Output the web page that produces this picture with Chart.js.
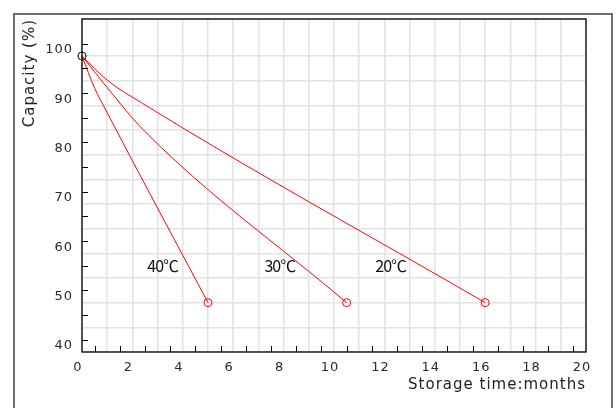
<!DOCTYPE html>
<html>
<head>
<meta charset="utf-8">
<script src="https://cdn.jsdelivr.net/npm/chart.js@4/dist/chart.umd.min.js"></script>
<style>
	html, body { margin: 0; padding: 0; background: #fff; }
	#wrap { position: relative; width: 616px; height: 408px; overflow: hidden; }
	#frame {
		position: absolute; left: 13px; top: 13px; width: 596px; height: 420px;
		border: 2px solid #6e6e6e;
	}
	#chart { position: absolute; left: 0; top: 0; }
</style>
</head>
<body>
<div id="wrap">
	<div id="frame"></div>
	<canvas id="chart" width="616" height="408"></canvas>
</div>
<script>
// storage curves: capacity (%) against storage time (months)
const months20 = [0, 1, 2.4, 16];
const cap20 = [100, 95.1, 90.4, 50];
const months30 = [0, 1, 2.4, 10.5];
const cap30 = [100, 93.6, 85.2, 50];
const months40 = [0, 0.5, 1, 5];
const cap40 = [100, 93.5, 88.5, 50];

const tempNames = ["40℃", "30℃", "20℃"];
const tempLabelX = [3.2, 7.85, 12.25];
const tempLabelY = 57.4;

const toPoints = (xs, ys) => xs.map((x, i) => ({ x, y: ys[i] }));

const curve = (xs, ys) => ({
	data: toPoints(xs, ys),
	borderColor: "#ff0000",
	borderWidth: 1,
	cubicInterpolationMode: "monotone",
	clip: false,
	pointRadius: (ctx) =>
		ctx.dataIndex === 0 || ctx.dataIndex === xs.length - 1 ? 4 : 0,
	pointBorderColor: (ctx) => (ctx.dataIndex === 0 ? "#444444" : "#ff0000"),
	pointBackgroundColor: "rgba(0,0,0,0)",
	pointBorderWidth: 1,
});

// frame round the plot, the short inner ticks and the temperature labels
const decorations = {
	id: "decorations",
	beforeDraw(chart) {
		chart.ctx.letterSpacing = "1px";
	},
	afterDraw(chart) {
		const { ctx, chartArea: a, scales } = chart;
		ctx.save();
		ctx.strokeStyle = "#000";
		ctx.lineWidth = 1;
		ctx.beginPath();
		for (let v = 0.5; v < 20; v += 1) {
			const px = Math.round(scales.x.getPixelForValue(v)) + 0.5;
			ctx.moveTo(px, a.bottom);
			ctx.lineTo(px, a.bottom - 6);
		}
		for (let v = 42.5; v < 105; v += 5) {
			const py = Math.round(scales.y.getPixelForValue(v)) + 0.5;
			ctx.moveTo(a.left, py);
			ctx.lineTo(a.left + 6, py);
		}
		ctx.stroke();
		ctx.lineWidth = 1.3;
		ctx.strokeRect(a.left, a.top, a.right - a.left, a.bottom - a.top);

		ctx.letterSpacing = "-1px";
		ctx.fillStyle = "#111";
		ctx.font = "16px 'Noto Sans CJK SC'";
		ctx.textAlign = "center";
		ctx.textBaseline = "middle";
		tempNames.forEach((name, i) => {
			ctx.fillText(
				name,
				scales.x.getPixelForValue(tempLabelX[i]),
				scales.y.getPixelForValue(tempLabelY),
			);
		});
		ctx.restore();
	},
};

new Chart(document.getElementById("chart"), {
	type: "line",
	data: {
		datasets: [curve(months40, cap40), curve(months30, cap30), curve(months20, cap20)],
	},
	options: {
		responsive: false,
		animation: false,
		layout: { padding: { top: 19, right: 30, left: 0, bottom: 0 } },
		plugins: { legend: { display: false }, tooltip: { enabled: false } },
		scales: {
			x: {
				type: "linear",
				min: 0,
				max: 20,
				afterFit: (scale) => { scale.height = 56; },
				ticks: {
					stepSize: 1,
					autoSkip: false,
					maxRotation: 0,
					padding: 8,
					labelOffset: -4,
					color: "#2a2a2a",
					font: { family: "DejaVu Sans", size: 13 },
					callback: (v) => (v % 2 === 0 ? String(v) : ""),
				},
				grid: { color: "#e2e2e2", lineWidth: 1.5, drawTicks: false },
				border: { display: false },
				title: {
					display: true,
					text: "Storage time:months",
					align: "end",
					color: "#222",
					font: { family: "DejaVu Sans", size: 15 },
					padding: { top: 0, bottom: 14 },
				},
			},
			y: {
				type: "linear",
				min: 40,
				max: 107.5,
				afterFit: (scale) => { scale.width = 82; },
				ticks: {
					stepSize: 5,
					autoSkip: false,
					padding: 9,
					labelOffset: -6,
					color: "#2a2a2a",
					font: { family: "DejaVu Sans", size: 13 },
					callback: (v) => (v % 10 === 0 && v <= 100 ? String(v) : ""),
				},
				grid: { color: "#e2e2e2", lineWidth: 1.5, drawTicks: false },
				border: { display: false },
				title: {
					display: true,
					text: "Capacity (%)",
					align: "end",
					color: "#222",
					font: { family: "DejaVu Sans", size: 15 },
					padding: { top: 21, bottom: 0 },
				},
			},
		},
	},
	plugins: [decorations],
});
</script>
</body>
</html>
